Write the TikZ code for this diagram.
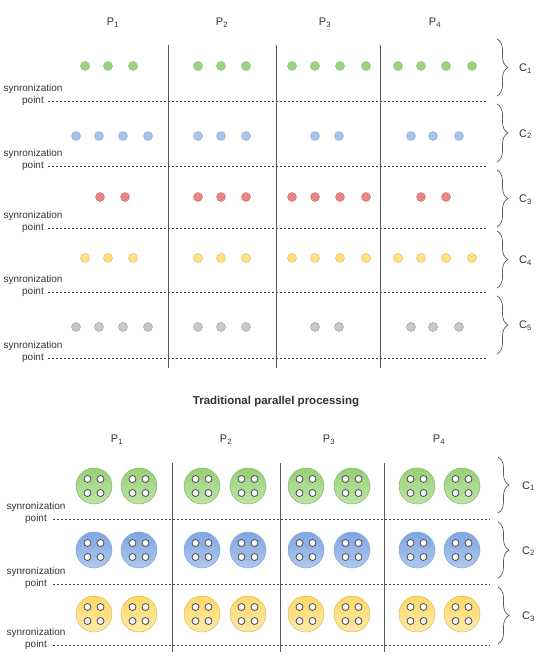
\documentclass[tikz,border=0pt]{standalone}
\usepackage{fontspec}
\setmainfont{Liberation Sans}
\usetikzlibrary{decorations.pathreplacing}

\definecolor{txt}{HTML}{333333}
\definecolor{grnfill}{HTML}{9CD383}
\definecolor{grnline}{HTML}{82B366}
\definecolor{blufill}{HTML}{A9C4EB}
\definecolor{bluline}{HTML}{7EA6E0}
\definecolor{redfill}{HTML}{EA8785}
\definecolor{redline}{HTML}{C86A68}
\definecolor{yelfill}{HTML}{FFE07A}
\definecolor{yelline}{HTML}{D6B656}
\definecolor{gryfill}{HTML}{C8C8C8}
\definecolor{gryline}{HTML}{999999}
\definecolor{grntop}{HTML}{97D077}
\definecolor{grnbot}{HTML}{BCE5A6}
\definecolor{blutop}{HTML}{7EA6E0}
\definecolor{blubot}{HTML}{AFC9EE}
\definecolor{yeltop}{HTML}{FFD966}
\definecolor{yelbot}{HTML}{FFEAAA}

\tikzset{
  dot/.style={circle, minimum size=9pt, inner sep=0pt, line width=0.4pt, fill=#1fill, draw=#1line},
  core/.style={circle, minimum size=36pt, inner sep=0pt, line width=0.5pt, draw=#1line, top color=#1top, bottom color=#1bot},
  hole/.style={circle, minimum size=7pt, inner sep=0pt, line width=0.8pt, draw=black!70, fill=white},
  sync/.style={align=center, inner sep=0pt, text=txt, font=\fontsize{10}{12}\selectfont},
  plab/.style={text=txt, font=\fontsize{11}{13}\selectfont},
  clab/.style={anchor=west, inner sep=0pt, text=txt, font=\fontsize{11}{13}\selectfont},
  colline/.style={line width=0.9pt, draw=black!65},
  syncline/.style={dashed, dash pattern=on 2pt off 2pt, line width=0.6pt, draw=black!75},
  brc/.style={decorate, decoration={brace, amplitude=11pt, aspect=0.5}, line width=0.7pt, draw=black!65}
}

\begin{document}
\begin{tikzpicture}[x=1pt, y=-1pt]
    \useasboundingbox (0,0) rectangle (540,666);
    % traditional parallel processing
    \foreach \x [count=\i] in {113,222,325,435}
      \node [plab] (p\i) at (\x,23) {P\textsubscript{\i}};
    \foreach \x [count=\i] in {168,276,380} {
      \coordinate (a\i) at (\x,45);
      \coordinate (b\i) at (\x,368);
      \draw [colline] (a\i) -- (b\i);
    }
    \foreach \y [count=\i] in {101,166,228,292,358} {
      \node [sync] (s\i) at (33,\y-6) {synronization\\point};
      \coordinate (d\i) at (48,\y);
      \coordinate (e\i) at (486,\y);
      \draw [syncline] (d\i) -- (e\i);
    }
    \foreach \a/\b [count=\i] in {39/96,104/162,170/227,231/288,296/354} {
      \coordinate (u\i) at (497,\a);
      \coordinate (w\i) at (497,\b);
      \draw [brc] (u\i) -- (w\i);
      \node [clab] (c\i) at (519,{(\a+\b)/2+1}) {C\textsubscript{\i}};
    }
    \foreach \x [count=\i] in {85,108,133,198,221,246,292,315,340,366,398,421,446,472}
      \node [dot=grn] (g\i) at (\x,66) {};
    \foreach \x [count=\i] in {76,99,123,148,198,221,246,315,339,411,433,459}
      \node [dot=blu] (b\i) at (\x,136) {};
    \foreach \x [count=\i] in {100,125,198,221,246,292,315,340,366,421,446}
      \node [dot=red] (r\i) at (\x,197) {};
    \foreach \x [count=\i] in {85,108,133,198,221,246,292,315,340,366,398,421,446,472}
      \node [dot=yel] (y\i) at (\x,258) {};
    \foreach \x [count=\i] in {76,99,123,148,198,221,246,315,339,411,433,459}
      \node [dot=gry] (n\i) at (\x,327) {};
    \node [text=txt, font=\fontsize{11.5}{14}\selectfont\bfseries] (title) at (276,402) {Traditional parallel processing};
    % second scheme
    \foreach \x [count=\i] in {117,226,329,439}
      \node [plab] (q\i) at (\x,440) {P\textsubscript{\i}};
    \foreach \x [count=\i] in {172,280,384} {
      \coordinate (f\i) at (\x,463);
      \coordinate (h\i) at (\x,652);
      \draw [colline] (f\i) -- (h\i);
    }
    \foreach \y [count=\i] in {519,584,645} {
      \node [sync] (t\i) at (36,\y-6) {synronization\\point};
      \coordinate (l\i) at (53,\y);
      \coordinate (m\i) at (490,\y);
      \draw [syncline] (l\i) -- (m\i);
    }
    \foreach \a/\b [count=\i] in {457/513,522/578,587/644} {
      \coordinate (o\i) at (498,\a);
      \coordinate (z\i) at (498,\b);
      \draw [brc] (o\i) -- (z\i);
      \node [clab] (cc\i) at (522,{(\a+\b)/2+1}) {C\textsubscript{\i}};
    }
    \foreach \r/\y/\c in {1/486/grn,2/550/blu,3/614/yel} {
      \foreach \x [count=\i] in {94,139,202,248,306,352,417,462} {
        \node [core=\c] (k\r-\i) at (\x,\y) {};
        \foreach \dx/\dy in {-6.5/-7,6.5/-7,-6.5/7,6.5/7}
          \node [hole] at ([shift={(\dx,\dy)}]k\r-\i) {};
      }
    }
\end{tikzpicture}
\end{document}
